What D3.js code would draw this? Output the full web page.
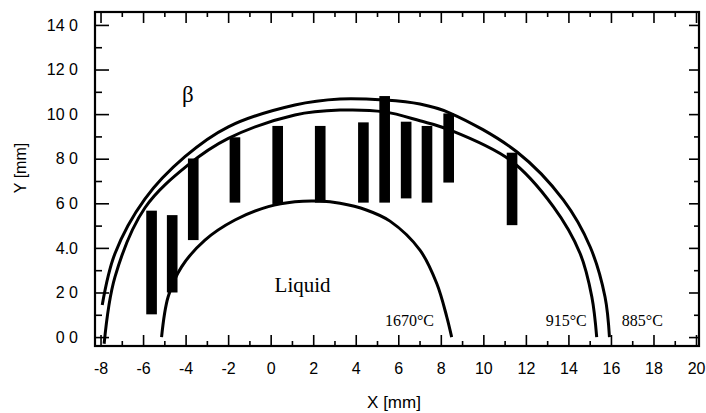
<!DOCTYPE html>
<html>
<head>
<meta charset="utf-8">
<script src="https://cdn.jsdelivr.net/npm/d3@7"></script>
<style>
  body { margin: 0; background: #fff; }
  svg { display: block; }
  .tick text { font-family: "Liberation Sans", Arial, sans-serif; font-size: 16px; fill: #000; }
  .serif { font-family: "Liberation Serif", "Times New Roman", serif; fill: #000; }
</style>
</head>
<body>
<div id="chart"></div>
<script>
// bar centres [mm] and their vertical extent [mm]
var barX    = [-5.6, -4.63, -3.64, -1.68, 0.33, 2.33, 4.36, 5.36, 6.37, 7.35, 8.37, 11.35];
var barLow  = [1.02,  2.0,   4.35,  6.03, 5.97, 6.03, 6.03, 6.03, 6.22, 6.03, 6.93, 5.02];
var barHigh = [5.67,  5.47,  8.01,  8.96, 9.47, 9.47, 9.63, 10.81, 9.66, 9.47, 10.03, 8.27];

// phase boundaries, [x, y] in mm
var curve885 = [[-7.92, 1.44], [-7.32, 3.75], [-5.91, 6.2], [-4.03, 8.09], [-1.99, 9.43],
  [1.14, 10.41], [3.26, 10.68], [5.36, 10.63], [7.02, 10.45], [8.43, 10.05], [11.57, 8.31],
  [13.76, 6.15], [15.02, 4.05], [15.72, 1.81], [15.93, 0]];
var curve915 = [[-7.83, -0.3], [-7.32, 2.7], [-5.91, 5.8], [-3.88, 7.72], [-1.99, 8.91],
  [1.14, 9.96], [3.26, 10.18], [5.36, 10.1], [7.02, 9.7], [8.43, 9.29], [11.26, 7.94],
  [13.29, 5.85], [14.55, 3.75], [15.1, 1.81], [15.33, 0]];
var curve1670 = [[-5.13, 0], [-4.82, 1.81], [-4.19, 3.15], [-3.09, 4.35], [-1.68, 5.25],
  [-0.11, 5.85], [1.14, 6.07], [2.3, 6.1], [3.26, 6.0], [4.5, 5.7], [5.61, 5.2], [7.02, 3.9],
  [7.81, 2.4], [8.28, 0.91], [8.51, 0]];

var xMajor = [-8, -6, -4, -2, 0, 2, 4, 6, 8, 10, 12, 14, 16, 18, 20];
var xMinor = [-7, -5, -3, -1, 1, 3, 5, 7, 9, 11, 13, 15, 17, 19];
var yMajor = [0, 2, 4, 6, 8, 10, 12, 14];
var yMinor = [1, 3, 5, 7, 9, 11, 13];
var yTickLabels = ["0 0", "2 0", "4.0", "6 0", "8 0", "10 0", "12 0", "14 0"];

var labels = [
  {text: "1670°C", x: 7.68, y: 0.49, anchor: "end"},
  {text: "915°C",  x: 14.86, y: 0.49, anchor: "end"},
  {text: "885°C",  x: 16.51, y: 0.49, anchor: "start"}
];

var width = 706, height = 413;
var mLeft = 95, mRight = 699, mTop = 12, mBottom = 346;

var x = d3.scaleLinear().domain([-8.26, 20.14]).range([mLeft, mRight]);
var y = d3.scaleLinear().domain([-0.4, 14.58]).range([mBottom, mTop]);

var svg = d3.select("#chart").append("svg")
  .attr("width", width)
  .attr("height", height);

svg.append("rect").attr("width", width).attr("height", height).attr("fill", "#fff");

// ticks all point inward
function addAxis(axis, tx, ty) {
  var g = svg.append("g").attr("transform", "translate(" + tx + "," + ty + ")").call(axis);
  g.select(".domain").remove();
  g.selectAll(".tick line").attr("stroke", "#000").attr("stroke-width", 1.6);
  return g;
}

addAxis(d3.axisBottom(x).tickValues(xMajor).tickSize(-11).tickPadding(17)
  .tickFormat(function(d) { return String(d); }), 0, mBottom);
addAxis(d3.axisBottom(x).tickValues(xMinor).tickSize(-5).tickFormat(""), 0, mBottom);
addAxis(d3.axisTop(x).tickValues(xMajor).tickSize(-11).tickFormat(""), 0, mTop);
addAxis(d3.axisTop(x).tickValues(xMinor).tickSize(-5).tickFormat(""), 0, mTop);
addAxis(d3.axisLeft(y).tickValues(yMajor).tickSize(-14).tickPadding(17)
  .tickFormat(function(d, i) { return yTickLabels[i]; }), mLeft, 0);
addAxis(d3.axisLeft(y).tickValues(yMinor).tickSize(-7).tickFormat(""), mLeft, 0);
addAxis(d3.axisRight(y).tickValues(yMajor).tickSize(-10).tickFormat(""), mRight, 0);
addAxis(d3.axisRight(y).tickValues(yMinor).tickSize(-5).tickFormat(""), mRight, 0);

svg.append("rect")
  .attr("x", mLeft).attr("y", mTop)
  .attr("width", mRight - mLeft).attr("height", mBottom - mTop)
  .attr("fill", "none").attr("stroke", "#000").attr("stroke-width", 2.2);

// bars
var halfW = 0.25;
svg.append("g").selectAll("rect")
  .data(barX)
  .enter().append("rect")
    .attr("x", function(d) { return x(d - halfW); })
    .attr("width", function(d) { return x(d + halfW) - x(d - halfW); })
    .attr("y", function(d, i) { return y(barHigh[i]); })
    .attr("height", function(d, i) { return y(barLow[i]) - y(barHigh[i]); })
    .attr("fill", "#000");

// boundaries
var line = d3.line()
  .x(function(d) { return x(d[0]); })
  .y(function(d) { return y(d[1]); })
  .curve(d3.curveCatmullRom.alpha(0.5));

svg.append("g").selectAll("path")
  .data([curve885, curve915, curve1670])
  .enter().append("path")
    .attr("d", line)
    .attr("fill", "none")
    .attr("stroke", "#000")
    .attr("stroke-width", 3);

svg.selectAll("text.temp")
  .data(labels)
  .enter().append("text")
    .attr("class", "serif temp")
    .attr("x", function(d) { return x(d.x); })
    .attr("y", function(d) { return y(d.y); })
    .attr("text-anchor", function(d) { return d.anchor; })
    .attr("font-size", 16)
    .text(function(d) { return d.text; });

svg.append("text").attr("class", "serif")
  .attr("x", x(1.5)).attr("y", y(2.0))
  .attr("text-anchor", "middle").attr("font-size", 21)
  .text("Liquid");

svg.append("text").attr("class", "serif")
  .attr("x", x(-3.9)).attr("y", y(10.55))
  .attr("text-anchor", "middle").attr("font-size", 23)
  .text("β");

// axis titles
svg.append("text")
  .attr("x", 394).attr("y", 408)
  .attr("text-anchor", "middle")
  .style("font-family", "Liberation Sans, Arial, sans-serif").style("font-size", "17px")
  .text("X [mm]");

svg.append("text")
  .attr("transform", "translate(26,168) rotate(-90)")
  .attr("text-anchor", "middle")
  .style("font-family", "Liberation Sans, Arial, sans-serif").style("font-size", "16px")
  .text("Y [mm]");
</script>
</body>
</html>
